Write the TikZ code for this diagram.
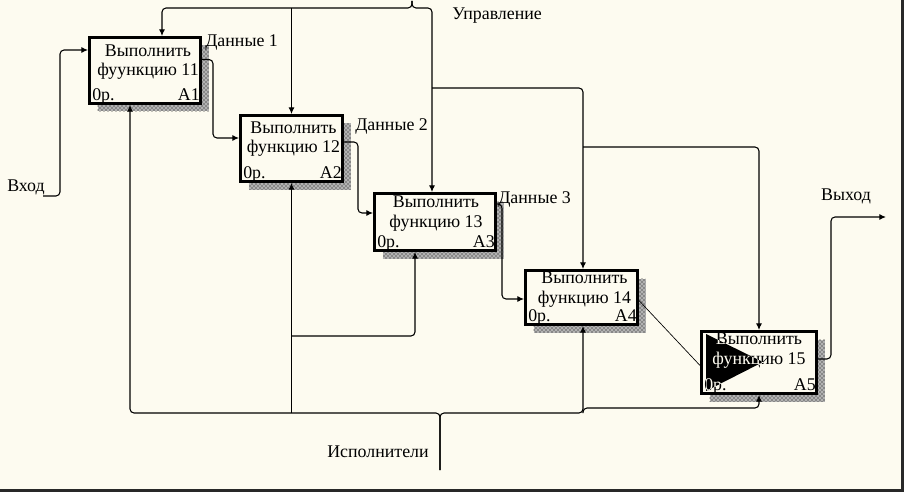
\documentclass[tikz,border=0pt]{standalone}
\usepackage{fontspec}
\setmainfont{Liberation Serif}
\usetikzlibrary{arrows.meta,calc,patterns}
\definecolor{paper}{RGB}{253,251,240}
\definecolor{edge}{RGB}{40,40,40}
\begin{document}
\begin{tikzpicture}[x=0.75pt,y=-0.75pt,>={Latex[length=5pt,width=4.5pt]},
  font=\fontsize{13.4}{14.6}\selectfont,
  func/.style={draw,line width=2.2pt,fill=paper,
    preaction={draw=none,fill=black!30,transform canvas={xshift=6pt,yshift=-6pt}},
    preaction={draw=none,pattern=crosshatch dots,pattern color=black,transform canvas={xshift=6pt,yshift=-6pt}},
    path picture={\fill (path picture bounding box.north west) -- ++(8,0) -- ++(-8,8) -- cycle;}},
  fn/.style={align=center,inner sep=0pt},
  lbl/.style={inner sep=0pt},
  arc/.style={line width=0.8pt,rounded corners=3pt}]
\fill[paper] (0,0) rectangle (904,492);
\useasboundingbox (0,0) rectangle (904,492);
\node[func,minimum width=83.25pt,minimum height=49.5pt] (a1) at (145,70.5) {};
\node[func,minimum width=76.5pt,minimum height=49.5pt] (a2) at (291.5,148.5) {};
\node[func,minimum width=90.75pt,minimum height=42.75pt] (a3) at (435,222) {};
\node[func,minimum width=84pt,minimum height=40.5pt] (a4) at (581.5,297.5) {};
\node[func,minimum width=86.25pt,minimum height=46.5pt] (a5) at (759,362.5) {};
\fill (706,334) -- (706,391) -- (763,362) -- cycle;
\node[fn] (f1) at ($(a1)+(3,-8.5)$) {Выполнить\\фуункцию 11};
\node[fn] (f2) at ($(a2)+(2,-9.5)$) {Выполнить\\функцию 12};
\node[fn] (f3) at ($(a3)+(1,-8.5)$) {Выполнить\\функцию 13};
\node[fn] (f4) at ($(a4)+(3,-8)$) {Выполнить\\функцию 14};
\node[fn] (f5) at ($(a5)+(0,-12)$) {Выполнить\\функцию 15};
\foreach \i in {1,...,5}{
  \node[lbl,anchor=base west] (p\i) at ($(a\i.south west)+(4,-4)$) {0р.};
  \node[lbl,anchor=base east] (n\i) at ($(a\i.south east)+(-2,-4)$) {A\i};
}
\begin{scope}
\clip (706,334) -- (706,391) -- (763,362) -- cycle;
\node[fn,text=paper] at (f5) {Выполнить\\функцию 15};
\node[lbl,text=paper] at (p5) {0р.};
\end{scope}
\node[lbl,anchor=west] (d1) at (205,43) {Данные 1};
\node[lbl,anchor=west] (d2) at (355,126) {Данные 2};
\node[lbl,anchor=west] (d3) at (498,199) {Данные 3};
\node[lbl,anchor=west] (ctllbl) at (452,16) {Управление};
\node[lbl] (outlbl) at (846,196) {Выход};
\node[lbl,anchor=west] (inlbl) at (7,187) {Вход};
\node[lbl] (mechlbl) at (378,452) {Исполнители};
\coordinate (in) at (43,196);
\coordinate (out) at (886,217);
\coordinate (ctl) at (412,1);
\coordinate (ctltop) at (412,8);
\coordinate (c3) at (432,88);
\coordinate (c4) at (583,147);
\coordinate (mech) at (440,470);
\coordinate (mfork) at (440,413);
\coordinate (m2) at (292,336);
\coordinate (m4) at (583,413);
\draw[arc,->] (in) -- ++(17,0) |- ($(a1.west)+(0,-20.5)$);
\draw[arc,->] ($(a1.east)+(0,-11)$) -- ++(11,0) |- ($(a2.west)+(0,-10.5)$);
\draw[arc,->] ($(a2.east)+(0,-6.5)$) -- ++(14,0) |- ($(a3.west)+(0,-9)$);
\draw[arc,->] ($(a3.east)+(0,-18)$) -- ++(5,0) |- ($(a4.west)+(0,1.5)$);
\draw[line width=0.5pt] ($(a4.east)+(0,3)$) -- ($(a5.west)+(0,3)$);
\draw[arc,->] ($(a5.east)+(0,-3.5)$) -- ++(13,0) |- (out);
\draw[arc,->] (ctl) -- (ctltop) -| ($(a1.north)+(17,0)$);
\draw[arc,->] (ctl) -- (ctltop) -| ($(a3.north)+(-3,0)$);
\draw[arc,->] (a2.north |- ctltop) -- (a2.north);
\draw[arc,->] (c3) -| ($(a4.north)+(1.5,0)$);
\draw[arc,->] (c4) -| (a5.north);
\draw[arc,->] (mech) -- (mfork) -| ($(a1.south)+(-15,0)$);
\draw[arc,->] (mech) -- (mfork) -| ($(a4.south)+(1.5,0)$);
\draw[arc,->] (a2.south |- mfork) -- (a2.south);
\draw[arc,->] (m2) -| ($(a3.south)+(-20,0)$);
\draw[arc,->] (m4) -- ++(0,-5) -| (a5.south);
\draw[edge,line width=2.25pt] (902.5,0) -- (902.5,490.5) -- (0,490.5);
\end{tikzpicture}
\end{document}
